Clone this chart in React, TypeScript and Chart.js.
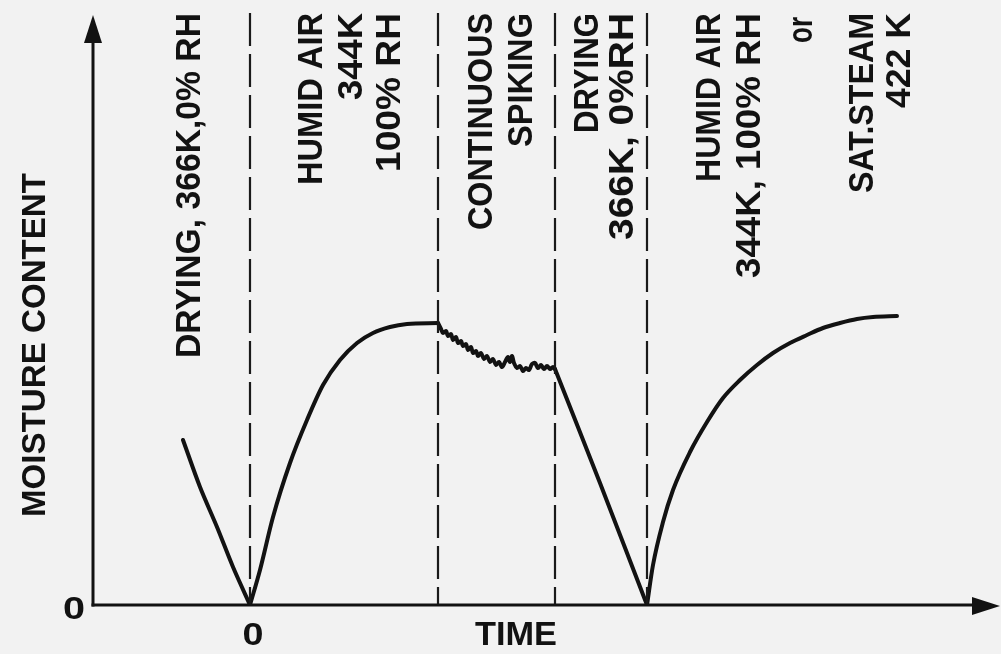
import React, { useEffect, useRef } from 'react';
import { Chart, registerables } from 'chart.js';

Chart.register(...registerables);

// ---------- data (time in arbitrary units, 0 = start of humidification) ----------
const dryTime1 = [-6.7, -5.0, -3.3, -1.7, 0];
const dryMoist1 = [16.5, 11.8, 7.8, 3.8, 0];

const humidTime1 = [0, 1.0, 2.3, 4.0, 5.7, 7.3, 9.0, 10.7, 12.3, 14.0, 15.7, 18.8];
const humidMoist1 = [0, 3.5, 8.8, 14.2, 18.5, 22.0, 24.5, 26.2, 27.2, 27.8, 28.1, 28.2];

const spikeTime = [18.8, 19.1, 19.3, 19.6, 19.8, 20.1, 20.3, 20.6, 20.8, 21.1, 21.3, 21.6, 21.8, 22.1, 22.3, 22.6, 22.8, 23.1, 23.4, 23.7, 24.0, 24.3, 24.6, 24.9, 25.2, 25.5, 25.8, 26.0, 26.2, 26.4, 26.7, 27.0, 27.3, 27.6, 27.9, 28.2, 28.5, 28.8, 29.1, 29.4, 29.7, 30.0, 30.3, 30.5];
const spikeMoist = [28.2, 27.6, 27.2, 27.4, 26.9, 27.1, 26.5, 26.8, 26.2, 26.4, 25.9, 26.1, 25.5, 25.8, 25.2, 25.4, 24.9, 25.2, 24.6, 24.9, 24.3, 24.6, 24.0, 24.3, 23.8, 24.3, 24.8, 24.3, 24.9, 24.2, 23.7, 23.9, 23.4, 23.7, 23.5, 24.1, 24.2, 23.7, 24.0, 23.6, 23.9, 23.6, 23.8, 23.6];

const dryTime2 = [30.5, 35.0, 39.7];
const dryMoist2 = [23.6, 12.2, 0];

const humidTime2 = [39.7, 40.3, 41.3, 42.3, 44.0, 45.7, 47.3, 49.0, 50.7, 52.3, 54.0, 55.7, 57.3, 59.0, 60.7, 62.3, 64.7];
const humidMoist2 = [0, 4.0, 8.3, 11.5, 15.3, 18.3, 20.7, 22.5, 24.0, 25.2, 26.2, 27.0, 27.7, 28.2, 28.6, 28.8, 28.9];

const phaseBoundaries = [0, 18.8, 30.5, 39.7];

const xTickLabels = ['0'];
const yTickLabels = ['0'];
const xAxisTitle = 'TIME';
const yAxisTitle = 'MOISTURE CONTENT';

const phaseLabels = [
  'DRYING, 366K,0% RH',
  'HUMID AIR',
  '344K',
  '100% RH',
  'CONTINUOUS',
  'SPIKING',
  'DRYING',
  '366K, 0%RH',
  'HUMID AIR',
  '344K, 100% RH',
  'or',
  'SAT.STEAM',
  '422 K',
];

// ---------- layout ----------
const X_MIN = -15.7;
const X_MAX = 75;
const Y_MIN = 0;
const Y_MAX = 59.5;
const INK = '#121212';
const BG = '#f2f2f2';
const FONT = '"Liberation Sans", Arial, sans-serif';

// baseline position (data x), top end (px), length along text (px)
const phaseLabelLayout = [
  { x: -5.0, top: 13, len: 345 },
  { x: 7.2, top: 13, len: 172 },
  { x: 11.2, top: 13, len: 87 },
  { x: 15.0, top: 13, len: 159 },
  { x: 24.2, top: 13, len: 217 },
  { x: 28.2, top: 13, len: 134 },
  { x: 34.8, top: 13, len: 120 },
  { x: 38.3, top: 13, len: 227 },
  { x: 47.0, top: 13, len: 169 },
  { x: 51.0, top: 13, len: 265 },
  { x: 56.2, top: 17, len: 26 },
  { x: 62.3, top: 13, len: 180 },
  { x: 66.0, top: 13, len: 95 },
];

const pts = (xs: number[], ys: number[]) => xs.map((x, i) => ({ x, y: ys[i] }));

function drawFitted(ctx: CanvasRenderingContext2D, text: string, len: number) {
  const w = ctx.measureText(text).width;
  ctx.save();
  ctx.scale(len / w, 1);
  ctx.fillText(text, 0, 0);
  ctx.restore();
}

const decorPlugin = {
  id: 'decor',
  beforeDraw(chart: any) {
    const ctx = chart.ctx as CanvasRenderingContext2D;
    ctx.save();
    ctx.fillStyle = BG;
    ctx.fillRect(0, 0, chart.width, chart.height);
    ctx.restore();
  },
  afterDatasetsDraw(chart: any) {
    const ctx = chart.ctx as CanvasRenderingContext2D;
    const xs = chart.scales.x;
    const ys = chart.scales.y;
    const x0 = xs.getPixelForValue(X_MIN);
    const y0 = ys.getPixelForValue(0);
    const yTip = ys.getPixelForValue(59.0);
    const xTip = xs.getPixelForValue(X_MAX);

    ctx.save();
    ctx.strokeStyle = INK;
    ctx.fillStyle = INK;
    ctx.lineWidth = 3;
    ctx.lineCap = 'butt';
    // y axis
    ctx.beginPath();
    ctx.moveTo(x0, y0 + 1.5);
    ctx.lineTo(x0, yTip + 20);
    ctx.stroke();
    ctx.beginPath();
    ctx.moveTo(x0, yTip);
    ctx.lineTo(x0 - 9, yTip + 28);
    ctx.lineTo(x0 + 9, yTip + 28);
    ctx.closePath();
    ctx.fill();
    // x axis
    ctx.beginPath();
    ctx.moveTo(x0 - 1.5, y0);
    ctx.lineTo(xTip - 20, y0);
    ctx.stroke();
    ctx.beginPath();
    ctx.moveTo(xTip, y0 + 1);
    ctx.lineTo(xTip - 28, y0 - 8);
    ctx.lineTo(xTip - 28, y0 + 10);
    ctx.closePath();
    ctx.fill();

    // tick labels
    ctx.font = `bold 32px ${FONT}`;
    ctx.textAlign = 'center';
    ctx.textBaseline = 'alphabetic';
    ctx.save();
    ctx.translate(xs.getPixelForValue(0) + 3, 645);
    drawFitted(ctx, xTickLabels[0], 21);
    ctx.restore();
    ctx.save();
    ctx.translate(x0 - 19, y0 + 14);
    drawFitted(ctx, yTickLabels[0], 22);
    ctx.restore();

    // axis titles
    ctx.font = `bold 34px ${FONT}`;
    ctx.save();
    ctx.translate(516, 645);
    drawFitted(ctx, xAxisTitle, 82);
    ctx.restore();
    ctx.save();
    ctx.translate(45, 345);
    ctx.rotate(-Math.PI / 2);
    drawFitted(ctx, yAxisTitle, 344);
    ctx.restore();

    // phase annotations
    ctx.font = `bold 35px ${FONT}`;
    ctx.textAlign = 'right';
    phaseLabels.forEach((t, i) => {
      const l = phaseLabelLayout[i];
      ctx.save();
      ctx.translate(xs.getPixelForValue(l.x), l.top);
      ctx.rotate(-Math.PI / 2);
      drawFitted(ctx, t, l.len);
      ctx.restore();
    });
    ctx.restore();
  },
};

export default function App() {
  const ref = useRef<HTMLCanvasElement | null>(null);
  useEffect(() => {
    if (!ref.current) return;
    const curve = (xs: number[], ys: number[], tension: number, mono = false) => ({
      data: pts(xs, ys),
      borderColor: INK,
      borderWidth: 4,
      pointRadius: 0,
      tension,
      cubicInterpolationMode: mono ? 'monotone' : 'default',
      borderCapStyle: 'round',
      borderJoinStyle: 'round',
      fill: false,
    });
    const dashed = phaseBoundaries.map((b) => ({
      data: [{ x: b, y: 59.2 }, { x: b, y: 0 }],
      borderColor: '#1a1a1a',
      borderWidth: 2.2,
      borderDash: [33, 8],
      pointRadius: 0,
      tension: 0,
      fill: false,
    }));
    const chart = new Chart(ref.current, {
      type: 'line',
      data: {
        datasets: [
          ...dashed,
          curve(dryTime1, dryMoist1, 0.3),
          curve(humidTime1, humidMoist1, 0, true),
          curve(spikeTime, spikeMoist, 0.35),
          curve(dryTime2, dryMoist2, 0.3),
          curve(humidTime2, humidMoist2, 0, true),
        ] as any,
      },
      options: {
        animation: false,
        responsive: true,
        maintainAspectRatio: false,
        layout: { padding: { left: 93, right: 1, top: 10, bottom: 49 } },
        plugins: { legend: { display: false }, tooltip: { enabled: false } },
        scales: {
          x: { type: 'linear', min: X_MIN, max: X_MAX, display: false },
          y: { type: 'linear', min: Y_MIN, max: Y_MAX, display: false },
        },
      },
      plugins: [decorPlugin],
    });
    return () => chart.destroy();
  }, []);
  return (
    <div style={{ position: 'fixed', left: 0, top: 0, width: 1001, height: 654 }}>
      <canvas ref={ref} />
    </div>
  );
}
